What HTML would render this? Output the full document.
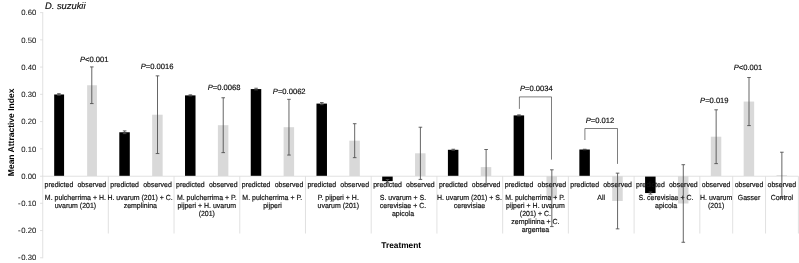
<!DOCTYPE html>
<html lang="en">
<head>
<meta charset="utf-8">
<title>D. suzukii - Mean Attractive Index by Treatment</title>
<style>html,body{margin:0;padding:0;background:#fff;}svg{display:block;will-change:transform;transform:translateZ(0);}</style>
</head>
<body>
<svg width="799" height="263" viewBox="0 0 799 263" text-rendering="geometricPrecision" font-family='"Liberation Sans", Arial, Helvetica, sans-serif'>
<rect width="799" height="263" fill="#ffffff"/>
<rect x="54.18" y="94.49" width="9.90" height="81.51" fill="#000000"/>
<rect x="87.14" y="85.25" width="9.80" height="90.75" fill="#d9d9d9"/>
<rect x="119.30" y="132.26" width="10.50" height="43.74" fill="#000000"/>
<rect x="152.16" y="114.70" width="10.50" height="61.30" fill="#d9d9d9"/>
<rect x="185.02" y="95.39" width="10.50" height="80.61" fill="#000000"/>
<rect x="217.88" y="125.19" width="10.50" height="50.81" fill="#d9d9d9"/>
<rect x="250.75" y="89.06" width="10.50" height="86.94" fill="#000000"/>
<rect x="283.61" y="127.20" width="10.50" height="48.80" fill="#d9d9d9"/>
<rect x="316.47" y="103.59" width="10.50" height="72.41" fill="#000000"/>
<rect x="349.33" y="140.68" width="10.50" height="35.32" fill="#d9d9d9"/>
<rect x="382.19" y="176.00" width="10.50" height="5.11" fill="#000000"/>
<rect x="415.05" y="153.31" width="10.50" height="22.69" fill="#d9d9d9"/>
<rect x="447.91" y="149.78" width="10.50" height="26.22" fill="#000000"/>
<rect x="480.77" y="167.09" width="10.50" height="8.91" fill="#d9d9d9"/>
<rect x="513.63" y="115.41" width="10.50" height="60.59" fill="#000000"/>
<rect x="546.49" y="176.00" width="10.50" height="22.20" fill="#d9d9d9"/>
<rect x="579.35" y="149.51" width="10.50" height="26.49" fill="#000000"/>
<rect x="612.22" y="176.00" width="10.50" height="25.00" fill="#d9d9d9"/>
<rect x="645.08" y="176.00" width="10.50" height="17.06" fill="#000000"/>
<rect x="677.94" y="176.00" width="10.50" height="27.50" fill="#d9d9d9"/>
<rect x="710.80" y="136.71" width="10.50" height="39.29" fill="#d9d9d9"/>
<rect x="743.66" y="101.55" width="10.50" height="74.45" fill="#d9d9d9"/>
<rect x="776.52" y="175.18" width="10.50" height="0.82" fill="#d9d9d9"/>
<g stroke="#dcdcdc" stroke-width="0.85" fill="none">
<line x1="42.75" y1="12.16" x2="42.75" y2="258.22"/>
<line x1="40.05" y1="257.77" x2="42.75" y2="257.77"/>
<line x1="40.05" y1="230.53" x2="42.75" y2="230.53"/>
<line x1="40.05" y1="203.29" x2="42.75" y2="203.29"/>
<line x1="40.05" y1="176.25" x2="42.75" y2="176.25"/>
<line x1="40.05" y1="148.81" x2="42.75" y2="148.81"/>
<line x1="40.05" y1="121.57" x2="42.75" y2="121.57"/>
<line x1="40.05" y1="94.33" x2="42.75" y2="94.33"/>
<line x1="40.05" y1="67.09" x2="42.75" y2="67.09"/>
<line x1="40.05" y1="39.85" x2="42.75" y2="39.85"/>
<line x1="40.05" y1="12.61" x2="42.75" y2="12.61"/>
<line x1="42.75" y1="176.25" x2="798.3" y2="176.25"/>
<line x1="108.32" y1="176.25" x2="108.32" y2="233.5"/>
<line x1="174.04" y1="176.25" x2="174.04" y2="233.5"/>
<line x1="239.77" y1="176.25" x2="239.77" y2="233.5"/>
<line x1="305.49" y1="176.25" x2="305.49" y2="233.5"/>
<line x1="371.21" y1="176.25" x2="371.21" y2="233.5"/>
<line x1="436.93" y1="176.25" x2="436.93" y2="233.5"/>
<line x1="502.65" y1="176.25" x2="502.65" y2="233.5"/>
<line x1="568.37" y1="176.25" x2="568.37" y2="233.5"/>
<line x1="634.10" y1="176.25" x2="634.10" y2="233.5"/>
<line x1="699.82" y1="176.25" x2="699.82" y2="233.5"/>
<line x1="732.68" y1="176.25" x2="732.68" y2="233.5"/>
<line x1="765.54" y1="176.25" x2="765.54" y2="233.5"/>
<line x1="798.40" y1="176.25" x2="798.40" y2="233.5"/>
</g>
<g fill="#111111" stroke="#111111" stroke-width="0.18" font-size="6.97" text-anchor="middle">
<text transform="translate(58.93 186.6) scale(1 1.06)">predicted</text>
<text transform="translate(91.79 186.6) scale(1 1.06)">observed</text>
<text transform="translate(124.65 186.6) scale(1 1.06)">predicted</text>
<text transform="translate(157.51 186.6) scale(1 1.06)">observed</text>
<text transform="translate(190.37 186.6) scale(1 1.06)">predicted</text>
<text transform="translate(223.23 186.6) scale(1 1.06)">observed</text>
<text transform="translate(256.10 186.6) scale(1 1.06)">predicted</text>
<text transform="translate(288.96 186.6) scale(1 1.06)">observed</text>
<text transform="translate(321.82 186.6) scale(1 1.06)">predicted</text>
<text transform="translate(354.68 186.6) scale(1 1.06)">observed</text>
<text transform="translate(387.54 186.6) scale(1 1.06)">predicted</text>
<text transform="translate(420.40 186.6) scale(1 1.06)">observed</text>
<text transform="translate(453.26 186.6) scale(1 1.06)">predicted</text>
<text transform="translate(486.12 186.6) scale(1 1.06)">observed</text>
<text transform="translate(518.98 186.6) scale(1 1.06)">predicted</text>
<text transform="translate(551.84 186.6) scale(1 1.06)">observed</text>
<text transform="translate(584.70 186.6) scale(1 1.06)">predicted</text>
<text transform="translate(617.57 186.6) scale(1 1.06)">observed</text>
<text transform="translate(650.43 186.6) scale(1 1.06)">predicted</text>
<text transform="translate(683.29 186.6) scale(1 1.06)">observed</text>
<text transform="translate(716.15 186.6) scale(1 1.06)">observed</text>
<text transform="translate(749.01 186.6) scale(1 1.06)">observed</text>
<text transform="translate(781.87 186.6) scale(1 1.06)">observed</text>
<text transform="translate(75.36 199.70) scale(1 1.06)">M. pulcherrima + H.</text>
<text transform="translate(75.36 207.65) scale(1 1.06)">uvarum (201)</text>
<text transform="translate(140.08 199.70) scale(1 1.06)">H. uvarum (201) + C.</text>
<text transform="translate(140.33 207.65) scale(1 1.06)">zemplinina</text>
<text transform="translate(206.80 199.70) scale(1 1.06)">M. pulcherrima + P.</text>
<text transform="translate(206.80 207.65) scale(1 1.06)">pijperi + H. uvarum</text>
<text transform="translate(206.80 215.60) scale(1 1.06)">(201)</text>
<text transform="translate(272.23 199.70) scale(1 1.06)">M. pulcherrima + P.</text>
<text transform="translate(272.53 207.65) scale(1 1.06)">pijperi</text>
<text transform="translate(338.25 199.70) scale(1 1.06)">P. pijperi + H.</text>
<text transform="translate(338.25 207.65) scale(1 1.06)">uvarum (201)</text>
<text transform="translate(402.97 199.70) scale(1 1.06)">S. uvarum + S.</text>
<text transform="translate(402.97 207.65) scale(1 1.06)">cerevisiae + C.</text>
<text transform="translate(402.97 215.60) scale(1 1.06)">apicola</text>
<text transform="translate(469.39 199.70) scale(1 1.06)">H. uvarum (201) + S.</text>
<text transform="translate(469.49 207.65) scale(1 1.06)">cerevisiae</text>
<text transform="translate(535.11 199.70) scale(1 1.06)">M. pulcherrima + P.</text>
<text transform="translate(535.41 207.65) scale(1 1.06)">pijperi + H. uvarum</text>
<text transform="translate(535.41 215.60) scale(1 1.06)">(201) + C.</text>
<text transform="translate(535.41 223.55) scale(1 1.06)">zemplinina + C.</text>
<text transform="translate(535.41 231.50) scale(1 1.06)">argentea</text>
<text transform="translate(601.13 199.70) scale(1 1.06)">All</text>
<text transform="translate(665.96 199.70) scale(1 1.06)">S. cerevisiae + C.</text>
<text transform="translate(666.16 207.65) scale(1 1.06)">apicola</text>
<text transform="translate(716.15 199.70) scale(1 1.06)">H. uvarum</text>
<text transform="translate(716.15 207.65) scale(1 1.06)">(201)</text>
<text transform="translate(749.01 199.70) scale(1 1.06)">Gasser</text>
<text transform="translate(781.87 199.70) scale(1 1.06)">Control</text>
</g>
<g stroke="#4a4a4a" stroke-width="0.85" fill="none">
<path d="M58.93 93.67V95.31M57.13 93.67H60.73M57.13 95.31H60.73"/>
<path d="M91.79 66.91V103.59M89.99 66.91H93.59M89.99 103.59H93.59"/>
<path d="M124.65 130.90V133.61M122.85 130.90H126.45M122.85 133.61H126.45"/>
<path d="M157.51 75.85V153.56M155.71 75.85H159.31M155.71 153.56H159.31"/>
<path d="M190.37 94.84V95.93M188.57 94.84H192.17M188.57 95.93H192.17"/>
<path d="M223.23 97.75V152.63M221.43 97.75H225.03M221.43 152.63H225.03"/>
<path d="M256.10 88.24V89.87M254.30 88.24H257.90M254.30 89.87H257.90"/>
<path d="M288.96 99.35V155.05M287.16 99.35H290.76M287.16 155.05H290.76"/>
<path d="M321.82 102.51V104.68M320.02 102.51H323.62M320.02 104.68H323.62"/>
<path d="M354.68 123.70V157.66M352.88 123.70H356.48M352.88 157.66H356.48"/>
<path d="M387.54 179.48V182.74M385.74 179.48H389.34M385.74 182.74H389.34"/>
<path d="M420.40 127.23V179.40M418.60 127.23H422.20M418.60 179.40H422.20"/>
<path d="M453.26 149.24V150.32M451.46 149.24H455.06M451.46 150.32H455.06"/>
<path d="M486.12 149.51V184.67M484.32 149.51H487.92M484.32 184.67H487.92"/>
<path d="M518.98 114.87V115.95M517.18 114.87H520.78M517.18 115.95H520.78"/>
<path d="M551.84 169.81V226.59M550.04 169.81H553.64M550.04 226.59H553.64"/>
<path d="M584.70 149.24V149.78M582.90 149.24H586.50M582.90 149.78H586.50"/>
<path d="M617.57 173.15V228.85M615.77 173.15H619.37M615.77 228.85H619.37"/>
<path d="M650.43 191.98V194.15M648.63 191.98H652.23M648.63 194.15H652.23"/>
<path d="M683.29 164.70V242.29M681.49 164.70H685.09M681.49 242.29H685.09"/>
<path d="M716.15 109.81V163.61M714.35 109.81H717.95M714.35 163.61H717.95"/>
<path d="M749.01 77.51V125.60M747.21 77.51H750.81M747.21 125.60H750.81"/>
<path d="M781.87 152.23V198.14M780.07 152.23H783.67M780.07 198.14H783.67"/>
</g>
<g stroke="#262626" stroke-width="0.6" fill="none">
<path d="M519.4 108.9V96.9H551.5V159.6"/>
<path d="M584.9 140.0V128.5H617.5V163.9"/>
</g>
<g fill="#222" stroke="#222" stroke-width="0.08" font-size="7.7" text-anchor="end">
<text x="36.3" y="260.47">-<tspan dx="0.7">0.30</tspan></text>
<text x="36.3" y="233.23">-<tspan dx="0.7">0.20</tspan></text>
<text x="36.3" y="205.99">-<tspan dx="0.7">0.10</tspan></text>
<text x="36.3" y="178.75">0.00</text>
<text x="36.3" y="151.51">0.10</text>
<text x="36.3" y="124.27">0.20</text>
<text x="36.3" y="97.03">0.30</text>
<text x="36.3" y="69.79">0.40</text>
<text x="36.3" y="42.55">0.50</text>
<text x="36.3" y="15.31">0.60</text>
</g>
<g fill="#111111" stroke="#111111" stroke-width="0.18" font-size="7.6">
<text x="79.95" y="61.65"><tspan font-style="italic">P</tspan>&lt;0.001</text>
<text x="140.65" y="68.60"><tspan font-style="italic">P</tspan>=0.0016</text>
<text x="207.65" y="89.95"><tspan font-style="italic">P</tspan>=0.0068</text>
<text x="272.85" y="93.65"><tspan font-style="italic">P</tspan>=0.0062</text>
<text x="519.95" y="91.45"><tspan font-style="italic">P</tspan>=0.0034</text>
<text x="585.65" y="122.85"><tspan font-style="italic">P</tspan>=0.012</text>
<text x="700.05" y="103.45"><tspan font-style="italic">P</tspan>=0.019</text>
<text x="733.70" y="70.45"><tspan font-style="italic">P</tspan>&lt;0.001</text>
</g>
<text x="45.0" y="8.8" font-size="9.35" font-style="italic" fill="#111111" stroke="#111111" stroke-width="0.18">D. suzukii</text>
<text x="401.2" y="247.9" font-size="8.35" font-weight="bold" text-anchor="middle" fill="#000">Treatment</text>
<text transform="translate(14.3 132.4) rotate(-90)" font-size="8.5" font-weight="bold" text-anchor="middle" fill="#000">Mean Attractive Index</text>
</svg>
</body>
</html>
